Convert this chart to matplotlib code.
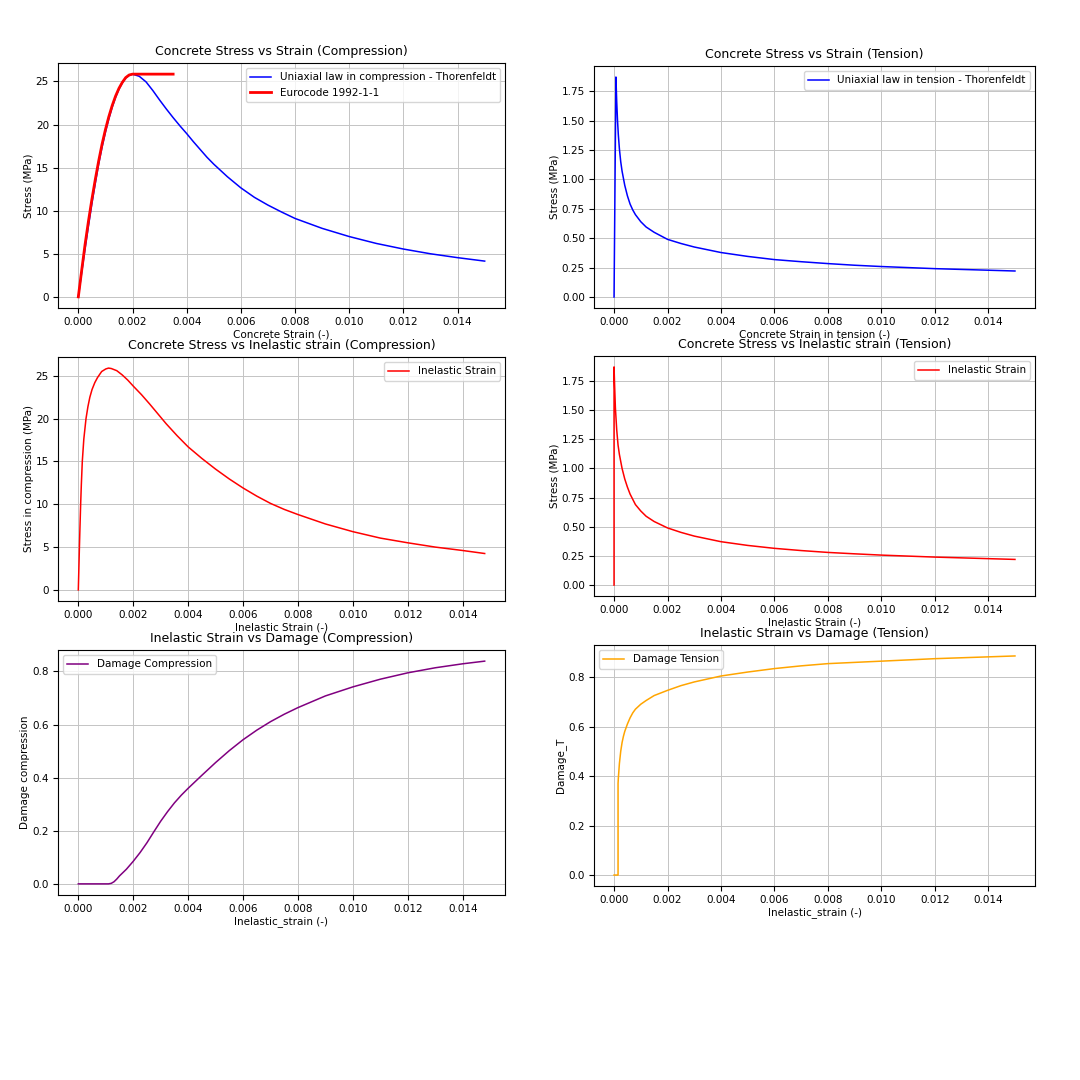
import matplotlib
matplotlib.use("Agg")
import matplotlib.pyplot as plt

# compression - Thorenfeldt
eps_c = [0, 0.000125, 0.00025, 0.000375, 0.0005, 0.000625, 0.00075, 0.000875, 0.001,
         0.001125, 0.00125, 0.001375, 0.0015, 0.001625, 0.00175, 0.001875, 0.002,
         0.00225, 0.0025, 0.00275, 0.003, 0.00325, 0.0035, 0.00375, 0.004, 0.00425,
         0.0045, 0.00475, 0.005, 0.0055, 0.006, 0.0065, 0.007, 0.0075, 0.008,
         0.009, 0.010, 0.011, 0.012, 0.013, 0.014, 0.015]
sig_c = [0, 2.85, 5.6, 8.25, 10.8, 13.15, 15.4, 17.35, 19.1,
         20.65, 22.0, 23.15, 24.1, 24.85, 25.4, 25.7, 25.85,
         25.6, 24.95, 23.95, 22.85, 21.8, 20.8, 19.85, 18.95, 18.0,
         17.1, 16.2, 15.4, 13.95, 12.65, 11.55, 10.65, 9.85, 9.1,
         7.95, 7.0, 6.2, 5.55, 5.0, 4.55, 4.15]

# Eurocode 1992-1-1
eps_ec = [0, 0.000125, 0.00025, 0.000375, 0.0005, 0.000625, 0.00075, 0.000875, 0.001,
          0.001125, 0.00125, 0.001375, 0.0015, 0.001625, 0.00175, 0.001875, 0.002, 0.0035]
sig_ec = [0, 3.1, 6.1, 8.8, 11.3, 13.6, 15.75, 17.7, 19.4,
          20.9, 22.2, 23.3, 24.2, 24.9, 25.45, 25.75, 25.85, 25.85]

# tension - Thorenfeldt
eps_t = [0, 0.00007, 0.00008, 0.0001, 0.00013, 0.00016, 0.0002, 0.00025, 0.0003,
         0.0004, 0.0005, 0.0006, 0.0007, 0.0008, 0.001, 0.0012, 0.0015, 0.002,
         0.0025, 0.003, 0.004, 0.005, 0.006, 0.007, 0.008, 0.009, 0.010, 0.012, 0.015]
sig_t = [0, 1.87, 1.80, 1.66, 1.50, 1.38, 1.26, 1.15, 1.07,
         0.95, 0.86, 0.79, 0.74, 0.70, 0.64, 0.595, 0.55, 0.49,
         0.455, 0.425, 0.378, 0.345, 0.318, 0.30, 0.284, 0.27, 0.259, 0.241, 0.221]

# stress vs inelastic strain, compression
eps_in_c = [0, 0.00002, 0.00004, 0.00006, 0.000085, 0.00011, 0.000145, 0.0002, 0.00028,
            0.00035, 0.00042, 0.0005, 0.0006, 0.0007, 0.00085, 0.001, 0.0011, 0.0012,
            0.0014, 0.0016, 0.0018, 0.002, 0.0023, 0.0026, 0.0029, 0.0032, 0.0036,
            0.004, 0.0045, 0.005, 0.0055, 0.006, 0.0065, 0.007, 0.0075, 0.008,
            0.009, 0.010, 0.011, 0.012, 0.013, 0.014, 0.0148]
sig_in_c = [0, 2.5, 5.0, 7.3, 10.0, 12.3, 15.0, 17.6, 20.0,
            21.4, 22.5, 23.4, 24.2, 24.8, 25.5, 25.8, 25.9, 25.85,
            25.6, 25.1, 24.5, 23.8, 22.8, 21.7, 20.55, 19.4, 18.0,
            16.7, 15.35, 14.1, 12.95, 11.9, 10.95, 10.1, 9.4, 8.8,
            7.7, 6.8, 6.05, 5.5, 5.0, 4.6, 4.25]

# stress vs inelastic strain, tension
eps_in_t = [0, 0, 0.00002, 0.00005, 0.0001, 0.00015, 0.0002, 0.0003, 0.0004, 0.0005,
            0.0006, 0.0008, 0.001, 0.0012, 0.0015, 0.002, 0.0025, 0.003, 0.004,
            0.005, 0.006, 0.007, 0.008, 0.009, 0.010, 0.012, 0.015]
sig_in_t = [0, 1.87, 1.72, 1.52, 1.33, 1.20, 1.12, 1.0, 0.91, 0.84,
            0.78, 0.69, 0.635, 0.59, 0.545, 0.49, 0.452, 0.42, 0.372,
            0.34, 0.315, 0.296, 0.28, 0.268, 0.257, 0.24, 0.22]

# damage compression
eps_dc = [0, 0.0011, 0.0012, 0.0013, 0.0014, 0.0015, 0.00175, 0.002, 0.00225, 0.0025,
          0.00275, 0.003, 0.00325, 0.0035, 0.00375, 0.004, 0.0045, 0.005, 0.0055,
          0.006, 0.0065, 0.007, 0.0075, 0.008, 0.009, 0.010, 0.011, 0.012, 0.013,
          0.014, 0.0148]
dam_c = [0, 0, 0.002, 0.008, 0.018, 0.03, 0.055, 0.085, 0.118, 0.155,
         0.196, 0.236, 0.272, 0.305, 0.334, 0.36, 0.409, 0.457, 0.502,
         0.543, 0.579, 0.611, 0.639, 0.664, 0.708, 0.742, 0.771, 0.795, 0.814,
         0.829, 0.839]

# damage tension
eps_dt = [0, 0.00015, 0.00015, 0.00016, 0.00018, 0.0002, 0.00025, 0.0003, 0.00035,
          0.0004, 0.0005, 0.0006, 0.0007, 0.0008, 0.001, 0.0012, 0.0015, 0.002,
          0.0025, 0.003, 0.004, 0.005, 0.006, 0.007, 0.008, 0.010, 0.012, 0.015]
dam_t = [0, 0, 0.37, 0.39, 0.42, 0.45, 0.50, 0.535, 0.56,
         0.58, 0.61, 0.635, 0.655, 0.67, 0.69, 0.705, 0.725, 0.746,
         0.765, 0.78, 0.804, 0.82, 0.834, 0.845, 0.854, 0.864, 0.874, 0.885]

plt.rcParams['font.size'] = 7.5
plt.rcParams['xtick.labelsize'] = 7.5
plt.rcParams['ytick.labelsize'] = 7.5
plt.rcParams['axes.labelsize'] = 7.5
plt.rcParams['legend.fontsize'] = 7.5
plt.rcParams['axes.titlesize'] = 9
plt.rcParams['axes.labelpad'] = 1.5
plt.rcParams['xtick.major.pad'] = 3
plt.rcParams['ytick.major.pad'] = 3

fig = plt.figure(figsize=(10.8, 10.8), dpi=100)
W = 1080.0


def box(x0, y0, x1, y1):
    # pixel box -> figure fraction
    return [x0 / W, 1 - y1 / W, (x1 - x0) / W, (y1 - y0) / W]


ax1 = fig.add_axes(box(58, 63, 505, 308))
ax2 = fig.add_axes(box(594, 66, 1035, 308))
ax3 = fig.add_axes(box(58, 357, 505, 601))
ax4 = fig.add_axes(box(594, 356, 1035, 596))
ax5 = fig.add_axes(box(58, 650, 505, 895))
ax6 = fig.add_axes(box(594, 645, 1035, 886))

ax1.plot(eps_c, sig_c, color='blue', lw=1.1, label='Uniaxial law in compression - Thorenfeldt')
ax1.plot(eps_ec, sig_ec, color='red', lw=2, label='Eurocode 1992-1-1')
ax1.set_title('Concrete Stress vs Strain (Compression)')
ax1.set_xlabel('Concrete Strain (-)')
ax1.set_ylabel('Stress (MPa)')
ax1.legend(loc='upper right')

ax2.plot(eps_t, sig_t, color='blue', lw=1.1, label='Uniaxial law in tension - Thorenfeldt')
ax2.set_title('Concrete Stress vs Strain (Tension)')
ax2.set_xlabel('Concrete Strain in tension (-)')
ax2.set_ylabel('Stress (MPa)')
ax2.legend(loc='upper right')

ax3.plot(eps_in_c, sig_in_c, color='red', lw=1.1, label='Inelastic Strain')
ax3.set_title('Concrete Stress vs Inelastic strain (Compression)')
ax3.set_xlabel('Inelastic Strain (-)')
ax3.set_ylabel('Stress in compression (MPa)')
ax3.legend(loc='upper right')

ax4.plot(eps_in_t, sig_in_t, color='red', lw=1.1, label='Inelastic Strain')
ax4.set_title('Concrete Stress vs Inelastic strain (Tension)')
ax4.set_xlabel('Inelastic Strain (-)')
ax4.set_ylabel('Stress (MPa)')
ax4.legend(loc='upper right')

ax5.plot(eps_dc, dam_c, color='purple', lw=1.1, label='Damage Compression')
ax5.set_title('Inelastic Strain vs Damage (Compression)')
ax5.set_xlabel('Inelastic_strain (-)')
ax5.set_ylabel('Damage compression')
ax5.legend(loc='upper left')

ax6.plot(eps_dt, dam_t, color='orange', lw=1.1, label='Damage Tension')
ax6.set_title('Inelastic Strain vs Damage (Tension)')
ax6.set_xlabel('Inelastic_strain (-)')
ax6.set_ylabel('Damage_T')
ax6.legend(loc='upper left')

for ax in [ax1, ax2, ax3, ax4, ax5, ax6]:
    ax.grid(True, color='#c4c4c4', lw=0.7)
    ax.set_xticks([0, 0.002, 0.004, 0.006, 0.008, 0.010, 0.012, 0.014])

fig.savefig('out.png', dpi=100)
